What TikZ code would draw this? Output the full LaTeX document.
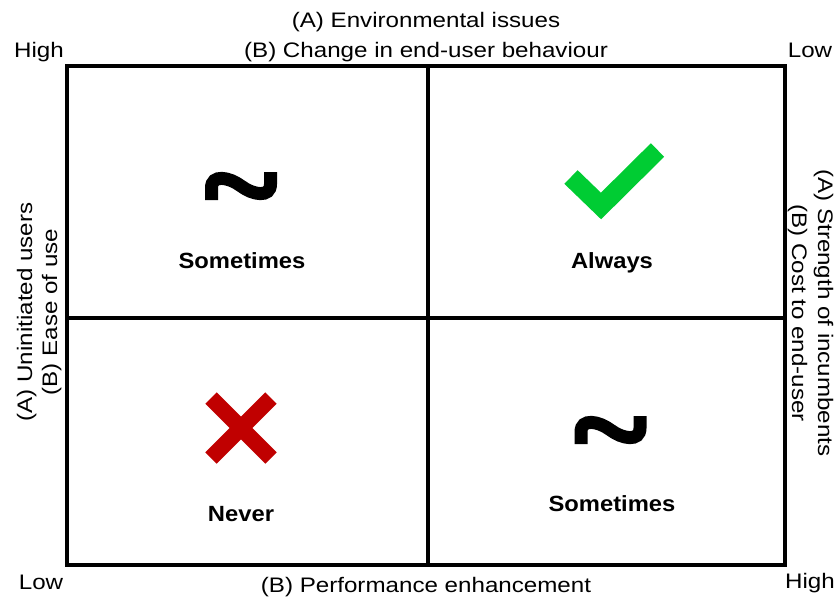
\documentclass[tikz,border=0pt]{standalone}
\usepackage{fontspec}
\setmainfont{Liberation Sans}
\newfontfamily\axisfont{Liberation Sans}[FakeStretch=1.15]
\newfontfamily\verdictfont{Liberation Sans}[FakeStretch=1.08]
\definecolor{checkgreen}{RGB}{0,204,51}
\definecolor{crossred}{RGB}{192,0,0}
\begin{document}
\begin{tikzpicture}[x=1pt,y=-1pt,
  axislabel/.style={font=\axisfont\fontsize{21}{25}\selectfont, inner sep=0pt, anchor=base},
  verdict/.style={font=\verdictfont\bfseries\fontsize{22}{26}\selectfont, inner sep=0pt, anchor=base},
  gridline/.style={line width=4pt},
  tilde/.pic={\draw[line width=13pt] (-29.5,14) -- (-29.5,2)
      .. controls (-29.5,-12) and (-12,-9) .. (0,0)
      .. controls (12,9) and (29.5,12) .. (29.5,-2) -- (29.5,-14);}
]
\useasboundingbox (0,0) rectangle (840,602);

% frame and quadrant dividers
\coordinate (tl) at (67,66);
\coordinate (br) at (785,565);
\coordinate (midtop) at (428,66);
\coordinate (midbot) at (428,565);
\coordinate (midleft) at (67,318);
\coordinate (midright) at (785,318);
\draw[gridline, line join=miter] (tl) rectangle (br);
\draw[gridline] (midtop) -- (midbot);
\draw[gridline] (midleft) -- (midright);

% axis titles
\node[axislabel] (topA) at (426,28) {(A) Environmental issues};
\node[axislabel] (topB) at (426,57) {(B) Change in end-user behaviour};
\node[axislabel] (bottomB) at (426,592) {(B) Performance enhancement};
\node[axislabel, rotate=90] (leftA) at (32,312) {(A) Uninitiated users};
\node[axislabel, rotate=90] (leftB) at (57,312) {(B) Ease of use};
\node[axislabel, rotate=-90] (rightA) at (818,313) {(A) Strength of incumbents};
\node[axislabel, rotate=-90] (rightB) at (792,313) {(B) Cost to end-user};

% corner scale labels
\node[axislabel] (hiTL) at (39,57) {High};
\node[axislabel] (loTR) at (810,57) {Low};
\node[axislabel] (loBL) at (41,589) {Low};
\node[axislabel] (hiBR) at (810,588) {High};

% top-left quadrant
\pic at (241,186) {tilde};
\node[verdict] (q1) at (242,268) {Sometimes};

% top-right quadrant
\draw[checkgreen, line width=19pt, line join=miter] (571,177) -- (601,206) -- (657.5,150);
\node[verdict] (q2) at (612,268) {Always};

% bottom-left quadrant
\draw[crossred, line width=16pt] (211,398) -- (271,458) (211,458) -- (271,398);
\node[verdict] (q3) at (241,521) {Never};

% bottom-right quadrant
\pic at (610.5,430) {tilde};
\node[verdict] (q4) at (612,511) {Sometimes};
\end{tikzpicture}
\end{document}
